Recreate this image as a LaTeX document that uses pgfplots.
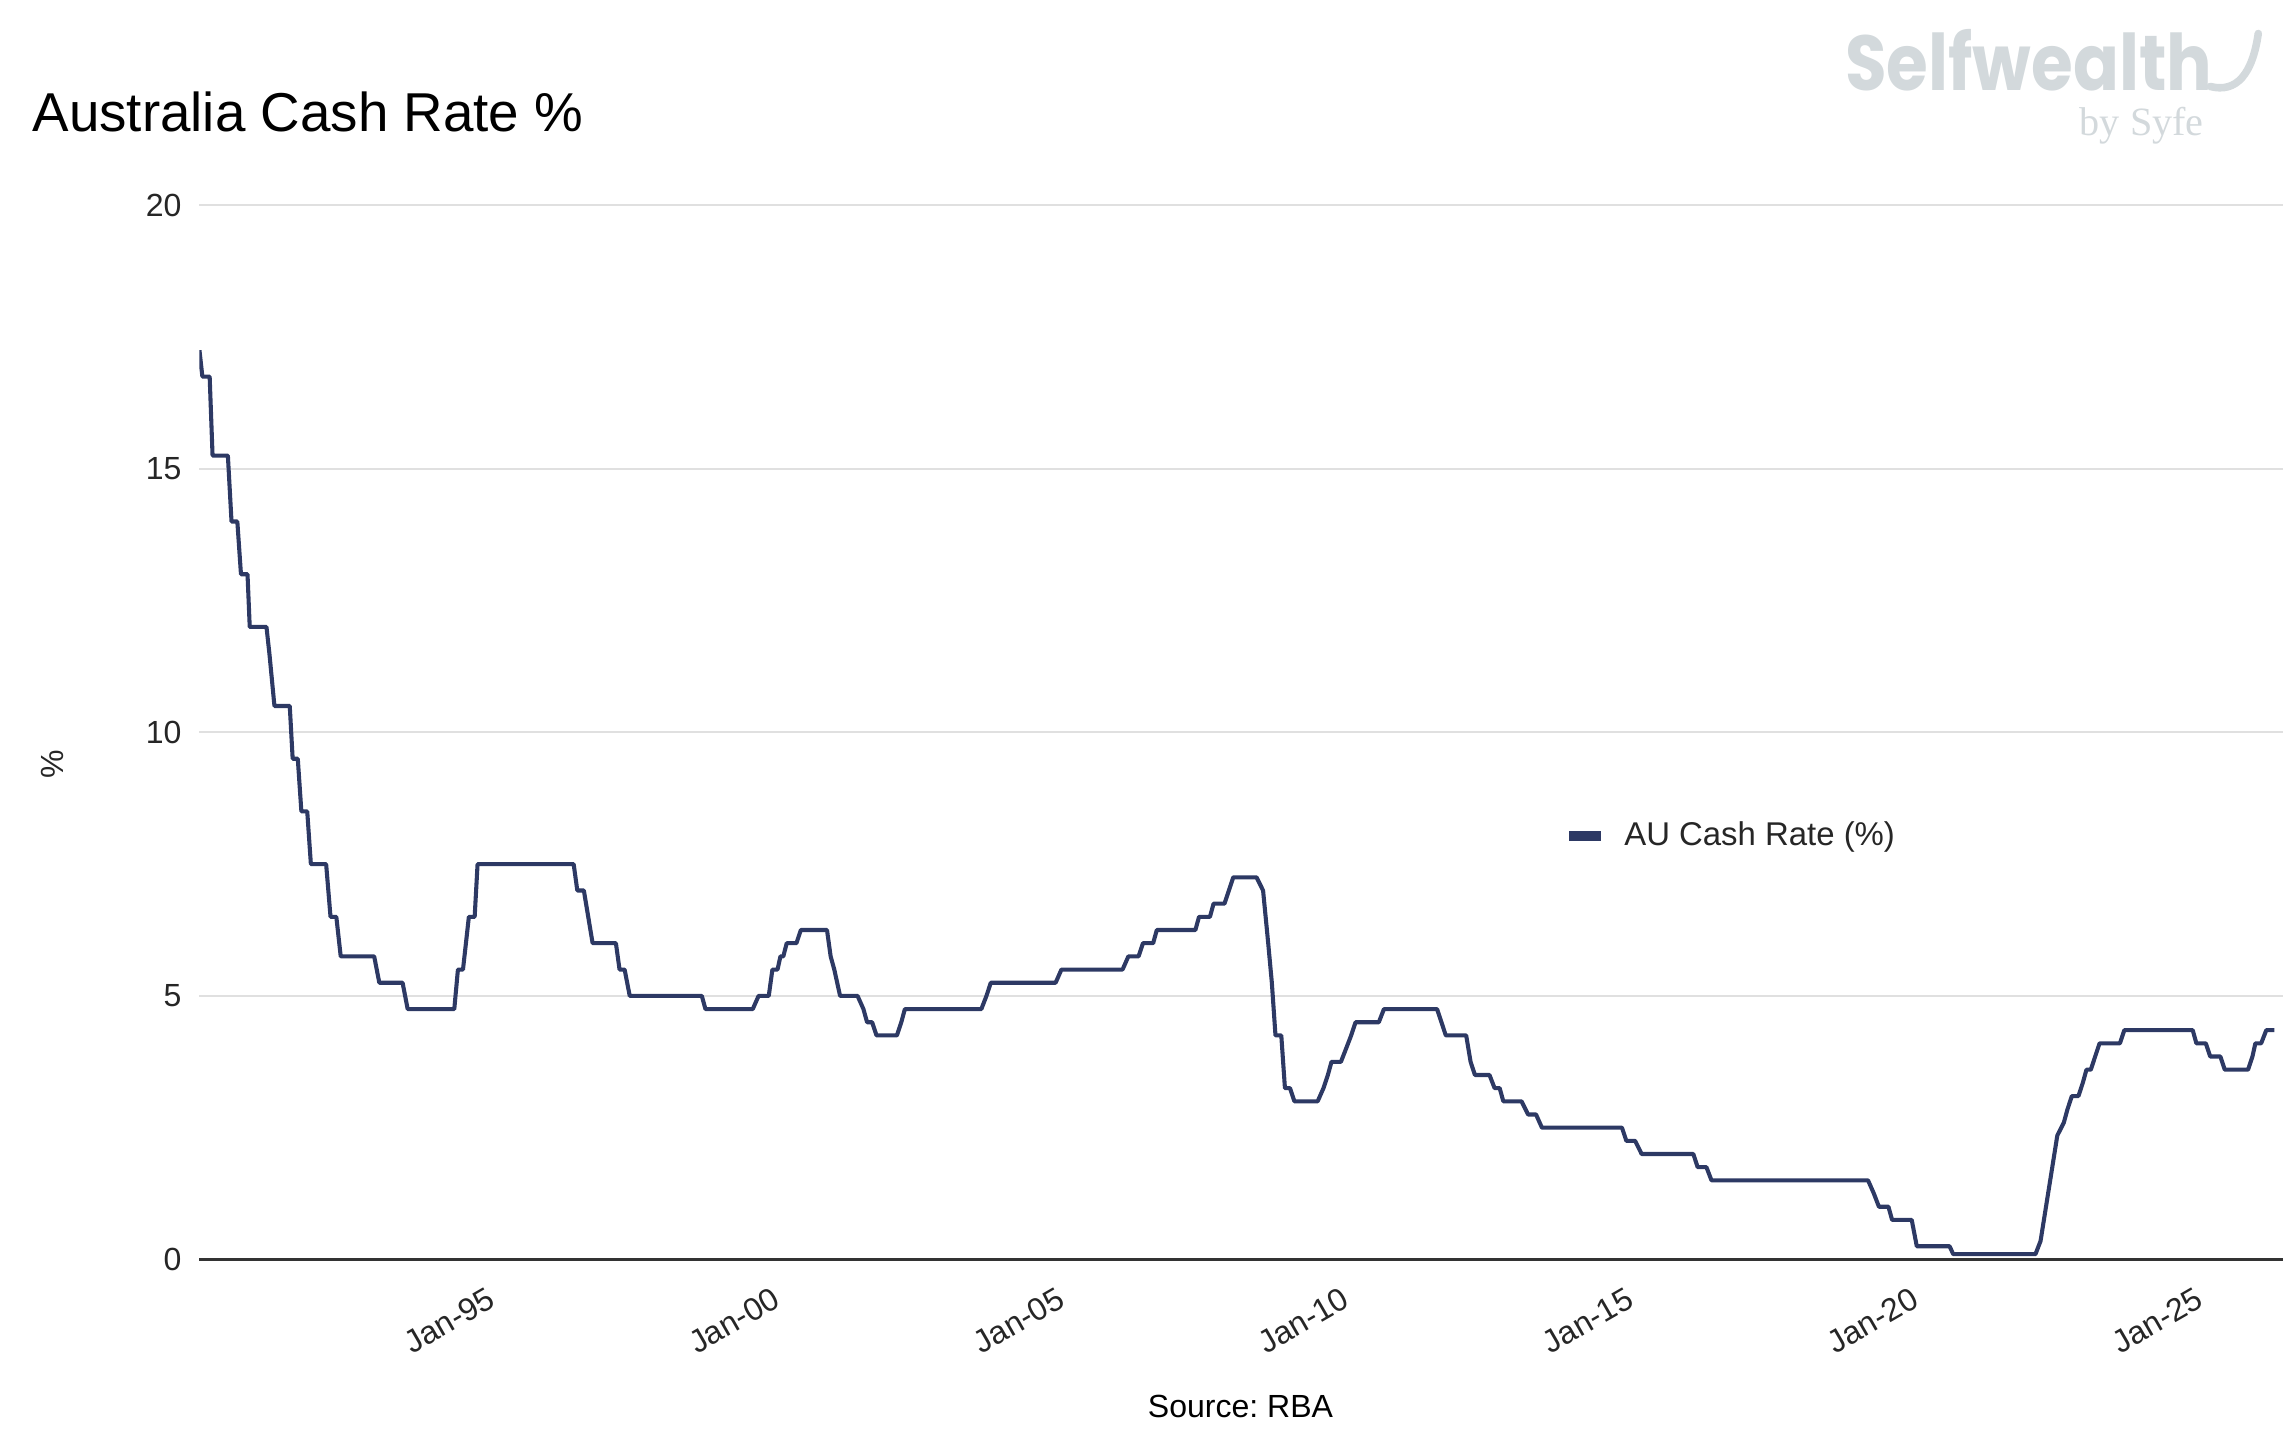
\documentclass[border=0pt]{standalone}
\usepackage{fontspec}
\setmainfont{Liberation Sans}
\newfontfamily\logofont{Poppins}
\newfontfamily\seriffont{Liberation Serif}
\usepackage{pgfplots}
\usepackage{pgfplotstable}
\pgfplotsset{compat=1.18}
\definecolor{navy}{HTML}{2D3964}
\definecolor{gridgray}{HTML}{E0E0E0}
\definecolor{logogray}{HTML}{D3D9DC}
\definecolor{axisdark}{HTML}{333333}

\pgfplotstableread{
year rate
1989.808 17.25
1989.859 16.75
1989.987 16.75
1990.038 15.25
1990.307 15.25
1990.371 14.00
1990.473 14.00
1990.537 13.00
1990.652 13.00
1990.691 12.00
1990.985 12.00
1991.036 11.50
1991.125 10.50
1991.394 10.50
1991.445 9.50
1991.535 9.50
1991.598 8.50
1991.701 8.50
1991.765 7.50
1992.033 7.50
1992.110 6.50
1992.212 6.50
1992.289 5.75
1992.877 5.75
1992.967 5.25
1993.376 5.25
1993.465 4.75
1994.284 4.75
1994.348 5.50
1994.437 5.50
1994.540 6.50
1994.642 6.50
1994.693 7.50
1996.381 7.50
1996.445 7.00
1996.560 7.00
1996.714 6.00
1997.123 6.00
1997.187 5.50
1997.276 5.50
1997.366 5.00
1998.632 5.00
1998.696 4.75
1999.527 4.75
1999.629 5.00
1999.808 5.00
1999.872 5.50
1999.962 5.50
2000.013 5.75
2000.064 5.75
2000.123 6.00
2000.294 6.00
2000.371 6.25
2000.831 6.25
2000.895 5.75
2000.959 5.50
2001.061 5.00
2001.368 5.00
2001.471 4.75
2001.535 4.50
2001.624 4.50
2001.701 4.25
2002.059 4.25
2002.136 4.50
2002.199 4.75
2003.542 4.75
2003.632 5.00
2003.708 5.25
2004.847 5.25
2004.949 5.50
2006.023 5.50
2006.125 5.75
2006.304 5.75
2006.381 6.00
2006.560 6.00
2006.624 6.25
2007.302 6.25
2007.366 6.50
2007.558 6.50
2007.621 6.75
2007.813 6.75
2007.890 7.00
2007.967 7.25
2008.376 7.25
2008.491 7.00
2008.581 6.00
2008.645 5.25
2008.709 4.25
2008.811 4.25
2008.875 3.25
2008.964 3.25
2009.041 3.00
2009.450 3.00
2009.552 3.25
2009.629 3.50
2009.693 3.75
2009.859 3.75
2009.949 4.00
2010.038 4.25
2010.115 4.50
2010.524 4.50
2010.614 4.75
2011.547 4.75
2011.624 4.50
2011.701 4.25
2012.059 4.25
2012.136 3.75
2012.212 3.50
2012.468 3.50
2012.558 3.25
2012.647 3.25
2012.711 3.00
2013.031 3.00
2013.146 2.75
2013.286 2.75
2013.389 2.50
2014.795 2.50
2014.872 2.25
2015.026 2.25
2015.141 2.00
2016.049 2.00
2016.125 1.75
2016.279 1.75
2016.368 1.50
2019.118 1.50
2019.220 1.25
2019.309 1.00
2019.476 1.00
2019.540 0.75
2019.885 0.75
2019.974 0.25
2020.550 0.25
2020.614 0.10
2022.059 0.10
2022.148 0.35
2022.442 2.35
2022.558 2.60
2022.621 2.85
2022.698 3.10
2022.813 3.10
2022.890 3.35
2022.954 3.60
2023.031 3.60
2023.107 3.85
2023.184 4.10
2023.542 4.10
2023.619 4.35
2024.821 4.35
2024.885 4.10
2025.051 4.10
2025.128 3.85
2025.307 3.85
2025.384 3.60
2025.793 3.60
2025.870 3.85
2025.921 4.10
2026.023 4.10
2026.113 4.35
2026.253 4.35
}\cashrate

\begin{document}
\begin{tikzpicture}
\useasboundingbox (0,0) rectangle (784pt,498.5pt);
\begin{axis}[
  at={(68.5pt,66pt)}, anchor=south west,
  scale only axis, width=715.5pt, height=362pt,
  xmin=1989.808, xmax=2026.407, ymin=0, ymax=20,
  axis x line*=bottom, axis y line*=left,
  x axis line style={draw=axisdark, line width=0.9pt},
  y axis line style={draw=none},
  major tick length=0pt,
  ymajorgrids, grid style={gridgray, line width=0.7pt},
  ytick={0,5,10,15,20},
  xtick={1995,2000,2005,2010,2015,2020,2025},
  xticklabels={Jan-95,Jan-00,Jan-05,Jan-10,Jan-15,Jan-20,Jan-25},
  /pgf/number format/assume math mode=true,
  ticklabel style={font=\fontsize{11}{13}\selectfont, text=black!85},
  yticklabel style={anchor=east, inner sep=0pt},
  yticklabel shift=6pt,
  xticklabel style={xshift=-3pt, rotate=30, anchor=north east, inner sep=0pt},
  xticklabel shift=9pt,
  legend style={draw=none, fill=none, at={(0.6548,0.4019)}, anchor=west,
    inner sep=0pt, column sep=4.3pt, font=\fontsize{11.3}{13}\selectfont, text=black!85},
  legend image code/.code={\draw[#1, line width=3.3pt] (0pt,0pt) -- (11pt,0pt);},
]
\addplot[navy, line width=1.4pt, line join=round] table[x=year, y=rate] {\cashrate};
\addlegendentry{AU Cash Rate (\%)}
\end{axis}
\node[anchor=base west, inner sep=0pt, font=\fontsize{18.8}{22}\selectfont] at (11pt,453.5pt) {Australia Cash Rate \%};
\node[rotate=90, inner sep=0pt, font=\fontsize{11}{13}\selectfont, text=black!85] at (18pt,236pt) {\%};
\node[inner sep=0pt, font=\fontsize{11}{13}\selectfont] at (426pt,15.5pt) {Source:\ RBA};
\node[anchor=base west, inner sep=0pt, text=logogray] at (633.5pt,467.5pt) {\resizebox{126pt}{21pt}{\logofont\bfseries Selfwealth}};
\draw[logogray, line width=2.6pt, line cap=round] (759pt,468.8pt) .. controls (768pt,466.5pt) and (773.5pt,473pt) .. (775.5pt,487pt);
\node[anchor=base west, inner sep=0pt, text=logogray, font=\seriffont\fontsize{13.8}{15}\selectfont] at (714pt,452pt) {by Syfe};
\end{tikzpicture}
\end{document}
